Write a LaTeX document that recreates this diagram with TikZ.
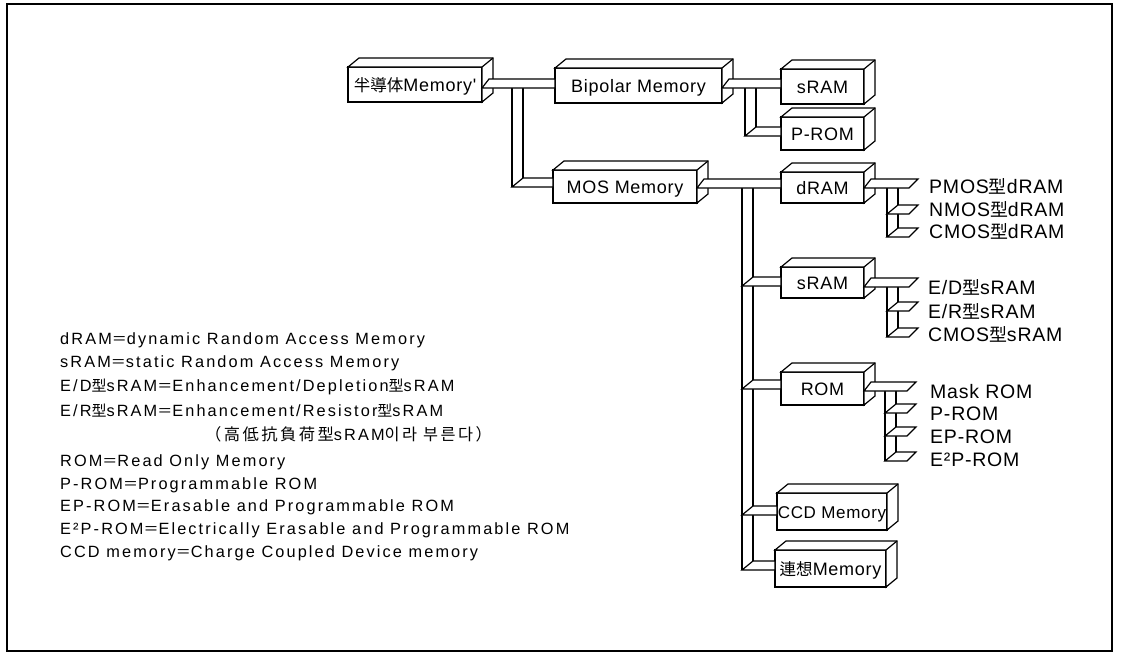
\documentclass[tikz,border=0pt]{standalone}
\usepackage{fontspec}
\setmainfont{Liberation Sans}
\newfontfamily\cjk{Noto Sans CJK KR}[Scale=0.92]
\newfontfamily\cjkwide{Noto Sans CJK KR}[LetterSpace=15]
\newfontfamily\boxfont{Liberation Sans}[LetterSpace=4]
\newfontfamily\notefont{Liberation Sans}[LetterSpace=13]
\usetikzlibrary{calc}
\newcommand{\kj}[1]{{\cjk #1}}
% 3-D side and top of a box node
\newcommand{\cubeside}[1]{%
  \filldraw[boxline,fill=white] (#1.north west) -- ++(11,-9) -- ($(#1.north east)+(11,-9)$)
    -- ($(#1.south east)+(11,-9)$) -- (#1.south east) -- (#1.north east) -- cycle;
  \draw[boxline] (#1.north east) -- ++(11,-9);}
% flat band from the side of box #1 to the front of box #2, top edge at #3
\newcommand{\ribbon}[3]{%
  \filldraw[boxline,fill=white] (#1.east |- 0,#3+9) -- ++(7,-9) -- (#2.west |- 0,#3)
    -- (#2.west |- 0,#3+9) -- cycle;}
% band from box #1 ending in a slanted tip past trunk #2
\newcommand{\tipribbon}[3]{%
  \filldraw[boxline,fill=white] (#1.east |- 0,#3+9) -- ++(7,-9) -- (#2+31,#3)
    -- (#2+22,#3+9) -- cycle;}
% short arm off trunk #1 at #2
\newcommand{\leafarm}[2]{%
  \filldraw[boxline,fill=white] (#1,#2+9) -- ++(11,-9) -- (#1+31,#2) -- (#1+22,#2+9) -- cycle;}
% arm off trunk #1 at #2 into box #3
\newcommand{\boxarm}[3]{%
  \filldraw[boxline,fill=white] (#1,#2+9) -- ++(11,-9) -- (#3.west |- 0,#2)
    -- (#3.west |- 0,#2+9) -- cycle;}
\tikzset{
  boxline/.style={line width=1.2pt, line join=miter},
  membox/.style={boxline, draw, fill=white, inner sep=0pt, outer sep=0pt,
    text height=13pt, text depth=0pt, font=\boxfont\fontsize{18}{21}\selectfont},
  leaf/.style={anchor=base west, inner sep=0pt, font=\boxfont\fontsize{19.5}{23}\selectfont},
  note/.style={anchor=base west, inner sep=0pt, font=\notefont\fontsize{16.3}{20}\selectfont},
}
\begin{document}
\begin{tikzpicture}[x=1pt,y=-1pt]
\useasboundingbox (0,0) rectangle (1121,656);
\draw[line width=1.6pt] (7,4) rectangle (1112,651);

% boxes
\node[membox, minimum width=134pt, minimum height=35pt] (semi) at (415,84.5) {\kj{半導体}Memory'};
\node[membox, minimum width=167pt, minimum height=35pt] (bip) at (638.5,85.5) {Bipolar Memory};
\node[membox, minimum width=83pt, minimum height=35pt] (bsram) at (822.5,86.5) {sRAM};
\node[membox, minimum width=83pt, minimum height=33pt] (bprom) at (822.5,133.5) {P-ROM};
\node[membox, minimum width=144pt, minimum height=33pt] (mos) at (625,186.5) {MOS Memory};
\node[membox, minimum width=83pt, minimum height=31pt] (dram) at (822.5,187.5) {dRAM};
\node[membox, minimum width=83pt, minimum height=31pt] (msram) at (822.5,282.5) {sRAM};
\node[membox, minimum width=83pt, minimum height=33pt] (rom) at (822.5,388.5) {ROM};
\node[membox, minimum width=110pt, minimum height=37pt, font=\boxfont\fontsize{17}{20}\selectfont] (ccd) at (832,511.5) {CCD Memory};
\node[membox, minimum width=111pt, minimum height=37pt] (assoc) at (830.5,568.5) {\kj{連想}Memory};
\foreach \b in {semi,bip,bsram,bprom,mos,dram,msram,rom,ccd,assoc} {\cubeside{\b}}

% trunks
\draw[boxline] (512,88) -- (512,187) (523,88) -- (523,178);
\draw[boxline] (745,88) -- (745,136) (756,88) -- (756,127);
\draw[boxline] (742,188) -- (742,570) (753,188) -- (753,561);
\draw[boxline] (887,188) -- (887,237) (898,188) -- (898,228);
\draw[boxline] (887,287) -- (887,337) (898,287) -- (898,328);
\draw[boxline] (885,391) -- (885,461) (896,391) -- (896,452);

% bands
\ribbon{semi}{bip}{79}
\boxarm{512}{178}{mos}
\ribbon{bip}{bsram}{79}
\boxarm{745}{127}{bprom}
\ribbon{mos}{dram}{179}
\foreach \y/\b in {277/msram,380/rom,506/ccd,561/assoc} {\boxarm{742}{\y}{\b}}
\tipribbon{dram}{887}{179}
\foreach \y in {205,228} {\leafarm{887}{\y}}
\tipribbon{msram}{887}{278}
\foreach \y in {302,328} {\leafarm{887}{\y}}
\tipribbon{rom}{885}{382}
\foreach \y in {404,427,452} {\leafarm{885}{\y}}

% leaves
\node[leaf] (pmos) at (929,193) {PMOS\kj{型}dRAM};
\node[leaf] (nmos) at (929,216.5) {NMOS\kj{型}dRAM};
\node[leaf] (cmosd) at (929,238.5) {CMOS\kj{型}dRAM};
\node[leaf] (edsram) at (928,294) {E/D\kj{型}sRAM};
\node[leaf] (ersram) at (928,318) {E/R\kj{型}sRAM};
\node[leaf] (cmoss) at (928,341) {CMOS\kj{型}sRAM};
\node[leaf] (mask) at (930,398) {Mask ROM};
\node[leaf] (prom) at (930,420) {P-ROM};
\node[leaf] (eprom) at (930,443) {EP-ROM};
\node[leaf] (eeprom) at (930,466) {E²P-ROM};

% legend
\node[note] (n1) at (60,344) {dRAM\kj{＝}dynamic Random Access Memory};
\node[note] (n2) at (60,367) {sRAM\kj{＝}static Random Access Memory};
\node[note] (n3) at (60,391) {E/D\kj{型}sRAM\kj{＝}Enhancement/Depletion\kj{型}sRAM};
\node[note] (n4) at (60,416) {E/R\kj{型}sRAM\kj{＝}Enhancement/Resistor\kj{型}sRAM};
\node[note] (n5) at (205,440) {{\cjkwide （高低抗負荷型}sRAM{\cjkwide 이라 부른다）}};
\node[note] (n6) at (60,466) {ROM\kj{＝}Read Only Memory};
\node[note] (n7) at (60,489) {P-ROM\kj{＝}Programmable ROM};
\node[note] (n8) at (60,511) {EP-ROM\kj{＝}Erasable and Programmable ROM};
\node[note] (n9) at (60,534) {E²P-ROM\kj{＝}Electrically Erasable and Programmable ROM};
\node[note] (n10) at (60,557) {CCD memory\kj{＝}Charge Coupled Device memory};
\end{tikzpicture}
\end{document}
